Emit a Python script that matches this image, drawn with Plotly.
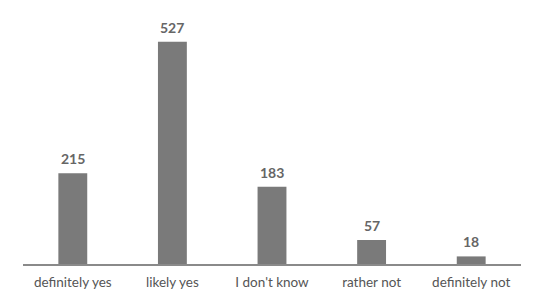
import plotly.graph_objects as go

categories = ['definitely yes', 'likely yes', "I don't know", 'rather not', 'definitely not']
counts = [215, 527, 183, 57, 18]

fig = go.Figure()

fig.add_trace(go.Bar(
    x=categories,
    y=counts,
    marker=dict(color='#7a7a7a', line=dict(width=0)),
    width=0.29,
    hoverinfo='x+y'
))

# value labels above each bar
for cat, val in zip(categories, counts):
    fig.add_annotation(
        x=cat, y=val,
        text=str(val),
        showarrow=False,
        yanchor='bottom',
        yshift=4,
        font=dict(family='Lato', size=14, color='#666666', weight='bold')
    )

# page body has an 8px margin, so the figure is sized to sit inside the window
fig.update_layout(
    width=534,
    height=290,
    margin=dict(l=15, r=21, t=3, b=34),
    paper_bgcolor='#ffffff',
    plot_bgcolor='#ffffff',
    font=dict(family='Lato', size=13, color='#555555'),
    showlegend=False,
    xaxis=dict(
        showline=True,
        linecolor='#8a8a8a',
        linewidth=2,
        ticks='',
        ticklabelstandoff=5,
        showgrid=False,
        tickfont=dict(family='Lato', size=13.5, color='#555555')
    ),
    yaxis=dict(
        range=[0, 600],
        showgrid=False,
        zeroline=False,
        showticklabels=False,
        showline=False
    )
)

fig.write_html("out.html")
